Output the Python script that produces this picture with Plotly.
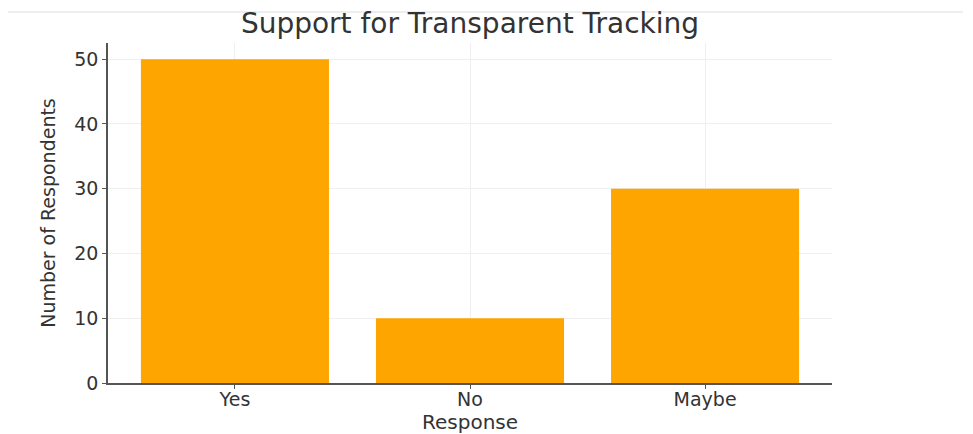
import plotly.graph_objects as go

# Survey responses
responses = ["Yes", "No", "Maybe"]
respondents = [50, 10, 30]
y_ticks = [0, 10, 20, 30, 40, 50]

FONT = "DejaVu Sans"
TEXT = "#333333"

fig = go.Figure(
    go.Bar(
        x=list(range(len(responses))),
        y=respondents,
        width=0.8,
        marker=dict(color="#FFA500", line=dict(width=0)),
        hoverinfo="x+y",
    )
)

fig.update_layout(
    width=973,
    height=434,
    margin=dict(l=108, r=141, t=43, b=51),
    paper_bgcolor="white",
    plot_bgcolor="white",
    showlegend=False,
    font=dict(family=FONT, color=TEXT),
    title=dict(
        text="Support for Transparent Tracking",
        x=(108 + 832) / 2 / 973,
        xanchor="center",
        y=1 - 23 / 434,
        yanchor="middle",
        font=dict(family=FONT, size=28, color=TEXT),
    ),
    bargap=0.2,
)

fig.update_xaxes(
    range=[-0.54, 2.54],
    tickmode="array",
    tickvals=list(range(len(responses))),
    ticktext=responses,
    tickfont=dict(size=19, color=TEXT),
    ticks="outside",
    ticklen=4,
    tickcolor="#555555",
    ticklabelstandoff=-6,
    showline=True,
    linecolor="#555555",
    linewidth=1.5,
    showgrid=True,
    gridcolor="#efefef",
    gridwidth=1,
    zeroline=False,
    automargin=False,
)

fig.update_yaxes(
    range=[0, 52.5],
    tickmode="array",
    tickvals=y_ticks,
    tickfont=dict(size=19, color=TEXT),
    ticks="outside",
    ticklen=4,
    tickcolor="#555555",
    showline=True,
    linecolor="#555555",
    linewidth=1.5,
    showgrid=True,
    gridcolor="#efefef",
    gridwidth=1,
    zeroline=False,
    automargin=False,
    title=dict(text="Number of Respondents", font=dict(size=19, color=TEXT), standoff=14),
)

# x-axis title placed just under the category labels
fig.add_annotation(
    text="Response", xref="paper", yref="paper",
    x=0.5, y=-39 / 340, xanchor="center", yanchor="middle",
    showarrow=False, font=dict(size=20, color=TEXT),
)

# faint rule across the top of the figure
fig.add_shape(
    type="line", xref="paper", yref="paper",
    x0=-100 / 724, x1=855 / 724, y0=1 + 31 / 340, y1=1 + 31 / 340,
    line=dict(color="#eeeeee", width=2),
)

fig.write_html("out.html")
